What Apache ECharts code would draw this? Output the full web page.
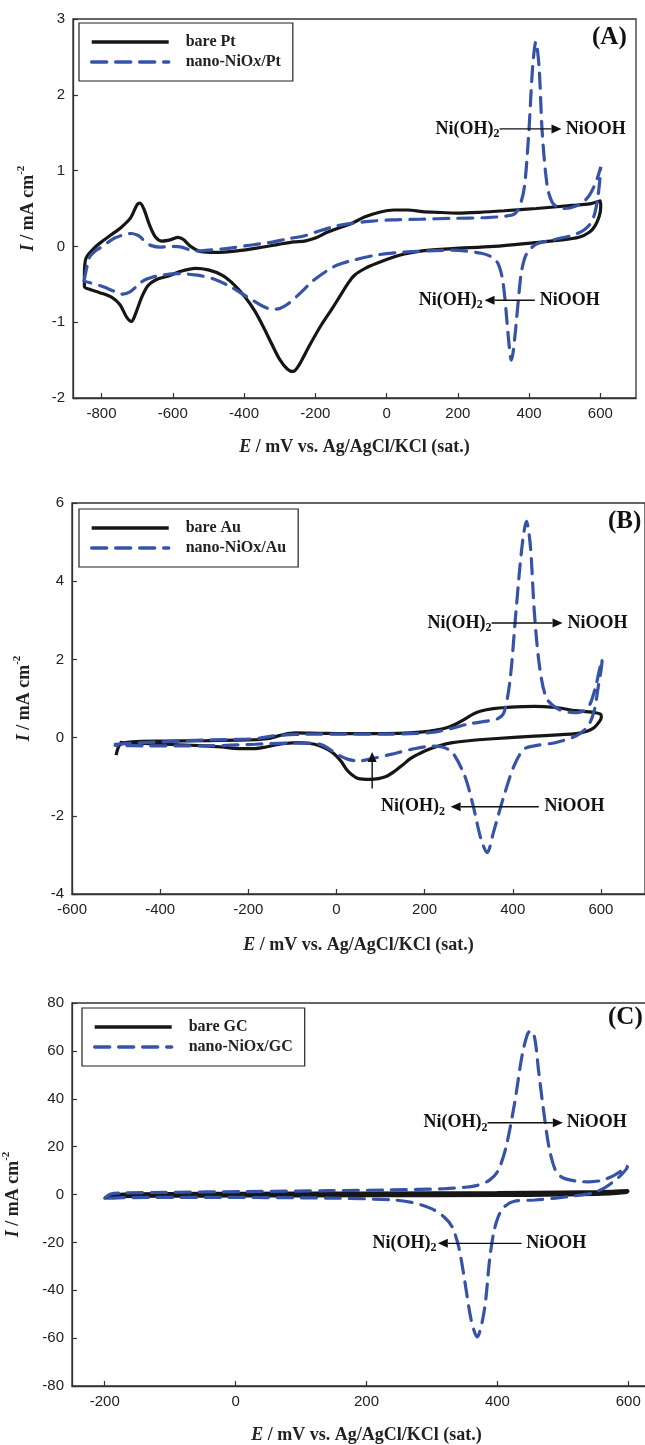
<!DOCTYPE html>
<html><head><meta charset="utf-8">
<script src="https://cdn.jsdelivr.net/npm/echarts@6/dist/echarts.min.js"></script>
<style>html,body{margin:0;padding:0;background:#fff}#c{width:645px;height:1445px}</style>
</head><body><div id="c"></div>
<script>
// ---------- DATA (E in mV, I in mA cm^-2) ----------
const A_bare = [[-848,-0.35],[-843,-0.15],[-820,-0.02],[-797,0.07],[-774,0.15],[-745,0.25],[-718,0.38],[-700,0.55],[-692,0.57],[-680,0.48],[-665,0.28],[-648,0.12],[-630,0.07],[-605,0.09],[-585,0.12],[-570,0.09],[-550,0.0],[-520,-0.07],[-480,-0.08],[-420,-0.06],[-360,-0.02],[-300,0.03],[-260,0.06],[-230,0.07],[-200,0.11],[-165,0.19],[-130,0.25],[-100,0.3],[-60,0.39],[-20,0.45],[20,0.48],[60,0.48],[100,0.46],[140,0.45],[200,0.44],[260,0.45],[330,0.47],[420,0.5],[520,0.54],[570,0.56],[600,0.6],
 [601,0.52],[597,0.4],[585,0.27],[570,0.19],[540,0.12],[480,0.08],[416,0.05],[300,0.0],[185,-0.03],[100,-0.06],[50,-0.1],[20,-0.14],[-20,-0.21],[-60,-0.29],[-90,-0.38],[-110,-0.5],[-130,-0.65],[-150,-0.8],[-185,-1.05],[-220,-1.34],[-245,-1.56],[-262,-1.65],[-278,-1.62],[-300,-1.49],[-324,-1.27],[-347,-1.05],[-370,-0.85],[-395,-0.68],[-427,-0.51],[-462,-0.38],[-500,-0.31],[-537,-0.29],[-578,-0.33],[-612,-0.39],[-647,-0.44],[-670,-0.52],[-688,-0.68],[-703,-0.87],[-716,-0.99],[-730,-0.93],[-748,-0.77],[-772,-0.67],[-805,-0.61],[-832,-0.57],[-848,-0.53],[-848,-0.35]];
const A_nano = [[-849,-0.46],[-840,-0.25],[-832,-0.13],[-815,-0.05],[-797,0.0],[-780,0.06],[-763,0.11],[-740,0.15],[-716,0.17],[-700,0.15],[-690,0.12],[-675,0.05],[-660,0.01],[-636,-0.01],[-601,0.0],[-575,-0.01],[-555,-0.04],[-531,-0.06],[-500,-0.05],[-450,-0.03],[-393,0.01],[-330,0.05],[-277,0.1],[-230,0.14],[-185,0.21],[-140,0.27],[-104,0.3],[-50,0.33],[12,0.35],[100,0.36],[185,0.37],[280,0.38],[335,0.4],[360,0.43],[375,0.55],[387,0.79],[399,1.49],[410,2.37],[419,2.7],[428,2.37],[437,1.49],[451,0.79],[465,0.58],[480,0.52],[500,0.5],[530,0.53],[555,0.6],[570,0.68],[585,0.82],[595,0.95],[601,1.05],
 [598,0.85],[592,0.62],[585,0.45],[575,0.32],[555,0.22],[530,0.16],[500,0.12],[451,0.07],[420,0.03],[400,-0.05],[388,-0.15],[378,-0.35],[370,-0.7],[362,-1.1],[355,-1.4],[350,-1.5],[345,-1.35],[338,-1.0],[332,-0.68],[324,-0.4],[312,-0.22],[295,-0.14],[266,-0.09],[185,-0.05],[69,-0.07],[-23,-0.11],[-92,-0.18],[-140,-0.25],[-170,-0.33],[-208,-0.46],[-243,-0.62],[-277,-0.76],[-300,-0.82],[-320,-0.83],[-347,-0.79],[-393,-0.66],[-439,-0.53],[-485,-0.43],[-531,-0.38],[-589,-0.36],[-630,-0.38],[-660,-0.41],[-682,-0.45],[-700,-0.52],[-720,-0.6],[-740,-0.63],[-760,-0.6],[-797,-0.53],[-832,-0.48],[-849,-0.46]];

const B_bare = [[-500,-0.45],[-495,-0.25],[-490,-0.17],[-464,-0.11],[-390,-0.09],[-297,-0.08],[-203,-0.06],[-157,-0.03],[-130,0.05],[-110,0.1],[-91,0.12],[-40,0.11],[20,0.1],[76,0.1],[140,0.11],[190,0.14],[226,0.19],[250,0.25],[270,0.34],[291,0.47],[310,0.6],[328,0.68],[356,0.74],[384,0.77],[449,0.8],[496,0.77],[543,0.69],[580,0.65],[599,0.6],
 [601,0.52],[596,0.4],[585,0.26],[570,0.17],[543,0.1],[449,0.04],[356,-0.03],[300,-0.08],[263,-0.13],[235,-0.2],[210,-0.3],[190,-0.4],[170,-0.52],[150,-0.7],[132,-0.86],[114,-0.99],[95,-1.05],[75,-1.07],[50,-1.05],[35,-0.95],[22,-0.8],[10,-0.6],[-5,-0.42],[-20,-0.3],[-40,-0.2],[-60,-0.15],[-91,-0.13],[-129,-0.17],[-160,-0.24],[-185,-0.28],[-222,-0.28],[-260,-0.24],[-297,-0.21],[-390,-0.17],[-483,-0.13],[-492,-0.12]];
const B_nano = [[-502,-0.17],[-436,-0.13],[-297,-0.06],[-185,-0.03],[-147,0.04],[-91,0.08],[-17,0.09],[123,0.09],[216,0.13],[263,0.24],[300,0.35],[340,0.42],[365,0.48],[380,0.64],[394,1.49],[407,3.19],[421,4.89],[431,5.53],[440,4.9],[449,3.2],[461,1.8],[477,1.0],[505,0.72],[540,0.64],[560,0.68],[575,0.85],[588,1.3],[597,1.75],[603,2.0],
 [600,1.7],[594,1.3],[585,0.7],[571,0.3],[543,0.04],[496,-0.13],[449,-0.21],[425,-0.3],[403,-0.72],[380,-1.49],[356,-2.43],[342,-2.94],[328,-2.6],[310,-1.74],[291,-0.98],[263,-0.38],[240,-0.24],[216,-0.22],[170,-0.3],[123,-0.43],[80,-0.54],[50,-0.6],[25,-0.55],[5,-0.45],[-15,-0.3],[-35,-0.18],[-63,-0.14],[-110,-0.14],[-185,-0.17],[-297,-0.21],[-436,-0.21],[-502,-0.2]];

const C_bare = [[-200,-1.5],[-190,-0.3],[-170,0.2],[-100,0.4],[0,0.5],[200,0.6],[400,0.8],[500,1.0],[560,1.2],[600,1.6],[598,0.9],[560,0.1],[500,-0.2],[400,-0.4],[200,-0.5],[0,-0.6],[-100,-0.7],[-180,-0.9],[-200,-1.5]];
const C_nano = [[-200,-1.5],[-191,0.2],[-172,0.6],[-109,0.9],[17,1.2],[143,1.6],[237,1.9],[319,2.4],[350,3.0],[369,3.8],[388,6.0],[401,9.9],[413,19.6],[426,37.7],[438,58.5],[446,67],[451,68.5],[457,65.4],[463,51.6],[470,36.3],[479,19.6],[489,9.9],[500,7.0],[520,5.6],[540,5.3],[558,5.8],[577,7.8],[590,10.0],[599,12.0],
 [597,10.6],[585,7.1],[565,3.0],[545,0.6],[520,-0.5],[489,-1.5],[457,-2.3],[426,-2.8],[410,-5.3],[401,-9.5],[394,-16.4],[388,-27.5],[380,-48.4],[369,-59.5],[360,-52.5],[350,-35.9],[341,-22.0],[331,-13.6],[319,-9.5],[300,-6.0],[269,-3.3],[237,-2.2],[143,-1.5],[-46,-1.2],[-172,-1.3],[-200,-1.7]];

const xTicksA = [-800,-600,-400,-200,0,200,400,600];
const xTicksB = [-600,-400,-200,0,200,400,600];
const xTicksC = [-200,0,200,400,600];

const namesBare = ['bare Pt','bare Au','bare GC'];
const namesNano = ['nano-NiOx/Pt','nano-NiOx/Au','nano-NiOx/GC'];
const panelLetters = ['(A)','(B)','(C)'];

// annotations in data coordinates: [x1,y1,x2,y2]
const arrows = [
  [[317,1.55,491,1.55],[416,-0.71,275,-0.71]],
  [[352,2.93,513,2.93],[459,-1.77,259,-1.77],[81,-1.3,81,-0.37]],
  [[385,30,500,30],[437,-20.4,309,-20.4]]
];
// [text, x, y, align]
const labels = [
  [['Ni(OH)2',317,1.55,'right'],['NiOOH',503,1.55,'left'],['Ni(OH)2',270,-0.71,'right'],['NiOOH',430,-0.71,'left']],
  [['Ni(OH)2',352,2.93,'right'],['NiOOH',524,2.93,'left'],['Ni(OH)2',246,-1.77,'right'],['NiOOH',472,-1.77,'left']],
  [['Ni(OH)2',385,30,'right'],['NiOOH',506,30,'left'],['Ni(OH)2',307,-20.4,'right'],['NiOOH',444,-20.4,'left']]
];

// ---------- LAYOUT ----------
const SERIF = "'Liberation Serif','Times New Roman',serif";
const SANS = "'Liberation Sans',Arial,sans-serif";
const BLUE = '#3653a8', BLACK = '#161616', AX = '#333';

const panels = [
  {grid:{left:73,top:19,width:563,height:379}, x:[-880,700,xTicksA], y:[-2,3,1], data:[A_bare,A_nano], yGap:33, xGap:40, leg:{left:79,top:23}, letter:[592,38]},
  {grid:{left:72,top:503,width:573,height:391}, x:[-600,700,xTicksB], y:[-4,6,2], data:[B_bare,B_nano], yGap:36, xGap:42, leg:{left:79,top:509}, letter:[608,522]},
  {grid:{left:72,top:1003,width:589,height:383}, x:[-250,650,xTicksC], y:[-80,80,20], data:[C_bare,C_nano], yGap:47, xGap:40, leg:{left:82,top:1008}, letter:[608,1018]}
];

const grids=[], xAxes=[], yAxes=[], series=[], legends=[];
panels.forEach((p,i)=>{
  grids.push(Object.assign({show:true, borderColor:AX, borderWidth:1.3, backgroundColor:'transparent', containLabel:false, outerBoundsMode:'none'}, p.grid));
  xAxes.push({type:'value', gridIndex:i, min:p.x[0], max:p.x[1],
    axisLine:{show:true, onZero:false, lineStyle:{color:AX,width:1.3}},
    axisTick:{show:true, inside:true, length:5, customValues:p.x[2], lineStyle:{color:AX,width:1.2}},
    axisLabel:{customValues:p.x[2], margin:8, color:'#222', fontFamily:SANS, fontSize:15},
    splitLine:{show:false},
    name:'{i|E} / mV vs. Ag/AgCl/KCl (sat.)', nameLocation:'middle', nameGap:p.xGap,
    nameTextStyle:{fontFamily:SERIF, fontWeight:'bold', fontSize:18, color:'#222',
      rich:{i:{fontFamily:SERIF, fontWeight:'bold', fontStyle:'italic', fontSize:18, color:'#222'}}}
  });
  yAxes.push({type:'value', gridIndex:i, min:p.y[0], max:p.y[1], interval:p.y[2],
    axisLine:{show:true, onZero:false, lineStyle:{color:AX,width:1.3}},
    axisTick:{show:true, inside:true, length:5, lineStyle:{color:AX,width:1.2}},
    axisLabel:{margin:8, color:'#222', fontFamily:SANS, fontSize:15},
    splitLine:{show:false},
    name:'{i|I} / mA cm{s|-2}', nameLocation:'middle', nameGap:p.yGap,
    nameTextStyle:{fontFamily:SERIF, fontWeight:'bold', fontSize:18, color:'#222',
      rich:{i:{fontFamily:SERIF, fontWeight:'bold', fontStyle:'italic', fontSize:18, color:'#222'},
            s:{fontFamily:SERIF, fontWeight:'bold', fontSize:11, color:'#222', padding:[0,0,13,0]}}}
  });
  series.push({name:namesBare[i], type:'line', xAxisIndex:i, yAxisIndex:i, data:p.data[0],
    showSymbol:false, symbol:'none', smooth:0.3, z:2,
    lineStyle:{color:BLACK, width:3.2}, itemStyle:{color:BLACK}});
  series.push({name:namesNano[i], type:'line', xAxisIndex:i, yAxisIndex:i, data:p.data[1],
    showSymbol:false, symbol:'none', smooth:0.3, z:3,
    lineStyle:{color:BLUE, width:3.2, type:[15,9], cap:'round'}, itemStyle:{color:BLUE}});
  legends.push({data:[namesBare[i], namesNano[i]], orient:'vertical', left:p.leg.left, top:p.leg.top,
    itemWidth:77, itemHeight:14, itemGap:4, padding:[11,12,11,11],
    borderColor:'#222', borderWidth:1.2, backgroundColor:'#fff',
    itemStyle:{opacity:0}, lineStyle:{width:3.4},
    formatter: n => (i===0 && n.indexOf('NiOx')>=0) ? n.replace('NiOx','NiO{x|x}') : n,
    textStyle:{fontFamily:SERIF, fontWeight:'bold', fontSize:16, color:'#222', padding:[0,0,0,12],
      rich:{x:{fontFamily:SERIF, fontWeight:'bold', fontStyle:'italic', fontSize:16, color:'#222'}}}
  });
});

const chart = echarts.init(document.getElementById('c'), null, {renderer:'canvas'});
chart.setOption({animation:false, backgroundColor:'#fff', grid:grids, xAxis:xAxes, yAxis:yAxes, series:series, legend:legends});

// annotations
const g = [];
const FONT = 'bold 18px ' + SERIF;
panels.forEach((p,i)=>{
  arrows[i].forEach(a=>{
    const p1 = chart.convertToPixel({gridIndex:i},[a[0],a[1]]);
    const p2 = chart.convertToPixel({gridIndex:i},[a[2],a[3]]);
    const dx=p2[0]-p1[0], dy=p2[1]-p1[1], L=Math.hypot(dx,dy), ux=dx/L, uy=dy/L;
    const hl=10, hw=4.5;
    const bx=p2[0]-ux*hl, by=p2[1]-uy*hl;
    g.push({type:'line', shape:{x1:p1[0],y1:p1[1],x2:bx,y2:by}, style:{stroke:'#111',lineWidth:1.4}, z:10});
    g.push({type:'polygon', shape:{points:[[p2[0],p2[1]],[bx-uy*hw,by+ux*hw],[bx+uy*hw,by-ux*hw]]}, style:{fill:'#111'}, z:10});
  });
  labels[i].forEach(l=>{
    const q = chart.convertToPixel({gridIndex:i},[l[1],l[2]]);
    const txt = l[0]==='Ni(OH)2' ? 'Ni(OH){s|2}' : l[0];
    g.push({type:'text', x:q[0], y:q[1], z:10, style:{text:txt, font:FONT, fill:'#111', align:l[3], verticalAlign:'middle',
      rich:{s:{fontFamily:SERIF, fontWeight:'bold', fontSize:12, fill:'#111', padding:[10,0,0,0]}}}});
  });
  g.push({type:'text', x:p.letter[0], y:p.letter[1], z:10, style:{text:panelLetters[i], font:'bold 25px '+SERIF, fill:'#111', align:'left', verticalAlign:'middle'}});
});
chart.setOption({graphic:g});
</script>
</body></html>
